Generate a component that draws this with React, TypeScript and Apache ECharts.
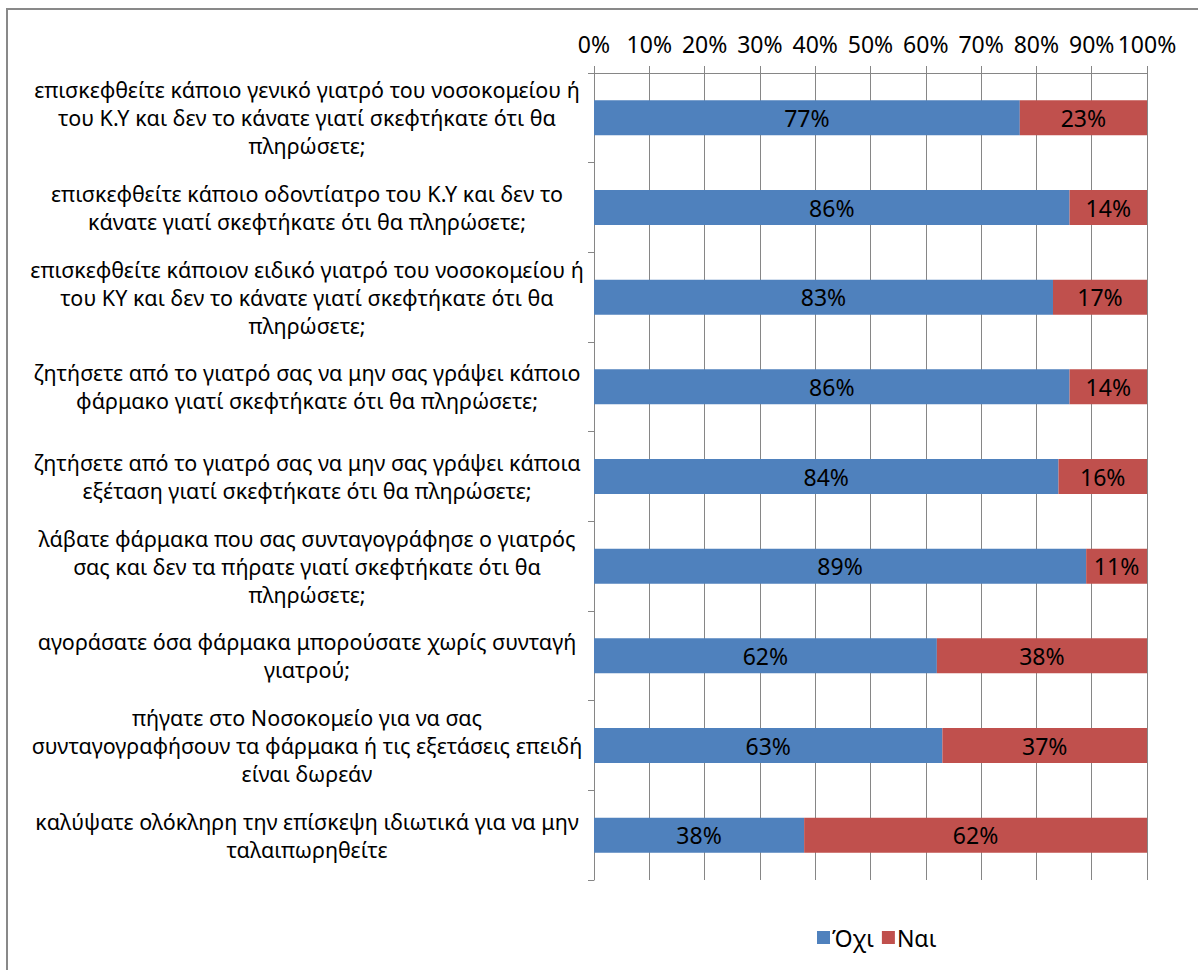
import React, { useEffect, useRef } from "react";
import * as echarts from "echarts";

const categories: string[] = [
  "επισκεφθείτε κάποιο γενικό γιατρό του νοσοκομείου ή\nτου Κ.Υ και δεν το κάνατε γιατί σκεφτήκατε ότι θα\nπληρώσετε;",
  "επισκεφθείτε κάποιο οδοντίατρο του Κ.Υ και δεν το\nκάνατε γιατί σκεφτήκατε ότι θα πληρώσετε;",
  "επισκεφθείτε κάποιον ειδικό γιατρό του νοσοκομείου ή\nτου ΚΥ και δεν το κάνατε γιατί σκεφτήκατε ότι θα\nπληρώσετε;",
  "ζητήσετε από το γιατρό σας να μην σας γράψει κάποιο\nφάρμακο γιατί σκεφτήκατε ότι θα πληρώσετε;",
  "ζητήσετε από το γιατρό σας να μην σας γράψει κάποια\nεξέταση γιατί σκεφτήκατε ότι θα πληρώσετε;",
  "λάβατε φάρμακα που σας συνταγογράφησε ο γιατρός\nσας και δεν τα πήρατε γιατί σκεφτήκατε ότι θα\nπληρώσετε;",
  "αγοράσατε όσα φάρμακα μπορούσατε χωρίς συνταγή\nγιατρού;",
  "πήγατε στο Νοσοκομείο για να σας\nσυνταγογραφήσουν τα φάρμακα ή τις εξετάσεις επειδή\nείναι δωρεάν",
  "καλύψατε ολόκληρη την επίσκεψη ιδιωτικά για να μην\nταλαιπωρηθείτε",
];

const noValues: number[] = [77, 86, 83, 86, 84, 89, 62, 63, 38];
const yesValues: number[] = [23, 14, 17, 14, 16, 11, 38, 37, 62];

const seriesNames: string[] = ["Όχι", "Ναι"];

const FONT = "'Noto Sans', sans-serif";

export default function App() {
  const ref = useRef<HTMLDivElement>(null);

  useEffect(() => {
    document.body.style.margin = "0";
    if (!ref.current) return;
    const chart = echarts.init(ref.current, null, { renderer: "svg" });
    const labelStyle = {
      show: true,
      position: "inside" as const,
      color: "#000",
      fontSize: 23,
      fontFamily: FONT,
      formatter: (p: any) => `${p.value}%`,
    };
    chart.setOption({
      animation: false,
      backgroundColor: "#fff",
      textStyle: { fontFamily: FONT },
      graphic: [
        {
          type: "rect",
          silent: true,
          z: -10,
          shape: { x: 7, y: 9, width: 1300, height: 1100 },
          style: { fill: "none", stroke: "#898989", lineWidth: 2 },
        },
      ],
      grid: { left: 594, right: 51, top: 73, bottom: 90, containLabel: false },
      legend: {
        data: seriesNames,
        left: 812,
        top: 921,
        itemWidth: 13,
        itemHeight: 13,
        itemGap: 8,
        icon: "rect",
        textStyle: { fontSize: 23, color: "#000", fontFamily: FONT, padding: [0, 0, 0, -3] },
      },
      xAxis: {
        type: "value",
        position: "top",
        min: 0,
        max: 100,
        interval: 10,
        axisLine: { show: true, lineStyle: { color: "#868686", width: 1 } },
        axisTick: { show: true, length: 7, lineStyle: { color: "#868686" } },
        splitLine: { show: true, lineStyle: { color: "#868686", width: 1 } },
        axisLabel: {
          formatter: "{value}%",
          fontSize: 23,
          color: "#000",
          fontFamily: FONT,
          margin: 18,
        },
      },
      yAxis: {
        type: "category",
        inverse: true,
        data: categories,
        axisLine: { show: true, lineStyle: { color: "#868686", width: 1 } },
        axisTick: { show: true, length: 6, lineStyle: { color: "#868686" } },
        axisLabel: {
          fontSize: 21.5,
          lineHeight: 28,
          color: "#000",
          fontFamily: FONT,
          align: "center",
          margin: 287,
        },
      },
      series: [
        {
          name: seriesNames[0],
          type: "bar",
          stack: "total",
          data: noValues,
          barCategoryGap: "61%",
          itemStyle: { color: "#4F81BD" },
          label: labelStyle,
        },
        {
          name: seriesNames[1],
          type: "bar",
          stack: "total",
          data: yesValues,
          barCategoryGap: "61%",
          itemStyle: { color: "#C0504D" },
          label: labelStyle,
        },
      ],
    });
    return () => chart.dispose();
  }, []);

  return <div ref={ref} style={{ width: 1198, height: 970 }} />;
}
